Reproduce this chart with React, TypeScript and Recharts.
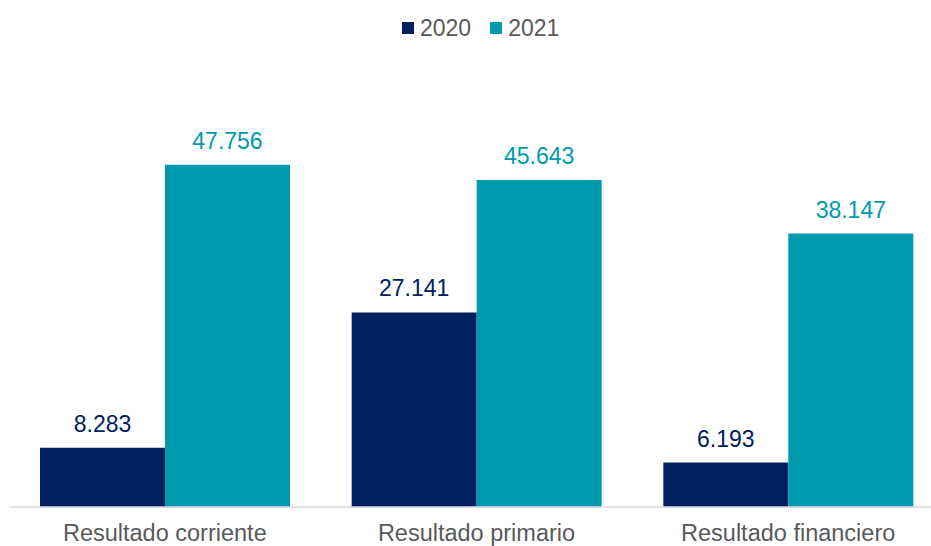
import { BarChart, Bar, XAxis, YAxis, LabelList } from 'recharts'

const categories = ['Resultado corriente', 'Resultado primario', 'Resultado financiero']
const values2020 = [8.283, 27.141, 6.193]
const values2021 = [47.756, 45.643, 38.147]
const seriesNames = ['2020', '2021']

const COLOR_2020 = '#002060'
const COLOR_2021 = '#009AAE'
const FONT = 'Arial, "Liberation Sans", sans-serif'

const data = categories.map((name, i) => ({
    name,
    v2020: values2020[i],
    v2021: values2021[i],
}))

const fmt = (v: number) => v.toFixed(3)

function ChartLegend() {
    const items = [
        { label: seriesNames[0], color: COLOR_2020 },
        { label: seriesNames[1], color: COLOR_2021 },
    ]
    return (
        <div
            style={{
                position: 'absolute',
                top: 14,
                left: 402,
                display: 'flex',
                gap: 19,
                fontFamily: FONT,
                fontSize: 23,
                color: '#595959',
                lineHeight: '28px',
            }}
        >
            {items.map(it => (
                <div key={it.label} style={{ display: 'flex', alignItems: 'center' }}>
                    <span style={{ width: 12, height: 12, background: it.color, marginRight: 6, display: 'inline-block' }} />
                    {it.label}
                </div>
            ))}
        </div>
    )
}

export default function App() {
    return (
        <div style={{ position: 'absolute', left: 0, top: 0, width: 931, height: 546, overflow: 'hidden', background: '#fff' }}>
            <ChartLegend />
            <BarChart
                width={944}
                height={546}
                data={data}
                margin={{ top: 77, right: 0, bottom: 0, left: 9 }}
                barGap={0}
                barSize={125}
            >
                <XAxis
                    dataKey="name"
                    height={39}
                    tickSize={0}
                    tickMargin={17}
                    axisLine={{ stroke: '#d9d9d9', strokeWidth: 1.5 }}
                    tickLine={false}
                    tick={{ fill: '#595959', fontSize: 23.5, fontFamily: FONT }}
                    interval={0}
                />
                <YAxis hide domain={[0, 60]} />
                <Bar dataKey="v2020" fill={COLOR_2020} isAnimationActive={false}>
                    <LabelList dataKey="v2020" position="top" offset={16} formatter={fmt} fill={COLOR_2020} fontSize={23} fontFamily={FONT} />
                </Bar>
                <Bar dataKey="v2021" fill={COLOR_2021} isAnimationActive={false}>
                    <LabelList dataKey="v2021" position="top" offset={16} formatter={fmt} fill={COLOR_2021} fontSize={23} fontFamily={FONT} />
                </Bar>
            </BarChart>
        </div>
    )
}
